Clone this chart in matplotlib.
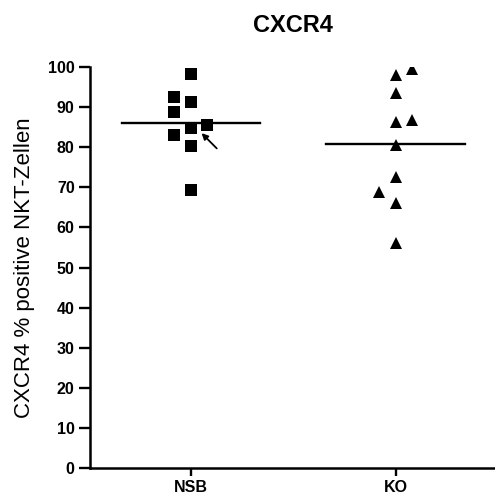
import matplotlib
matplotlib.use("Agg")
import matplotlib.pyplot as plt
import numpy as np

plt.rcParams['font.family'] = ['Liberation Sans', 'DejaVu Sans']

groups = ["NSB", "KO"]
# values (% positive NKT cells)
nsb_vals = [98.3, 92.6, 91.2, 88.7, 84.9, 85.6, 83.0, 80.3, 69.3]
nsb_off = [0.0, -0.085, 0.0, -0.085, 0.0, 0.077, -0.085, 0.0, 0.0]
ko_vals = [98.0, 99.4, 93.4, 86.4, 86.8, 80.5, 72.5, 68.9, 66.0, 56.2]
ko_off = [0.0, 0.08, 0.0, 0.0, 0.08, 0.0, 0.0, -0.082, 0.0, 0.0]
yticks = list(range(0, 101, 10))

fig = plt.figure(figsize=(4.95, 4.97), dpi=100)
ax = fig.add_axes([90 / 495, 29 / 497, 405 / 495, 401 / 497])

ax.plot(0 + np.array(nsb_off), nsb_vals, 's', color='black', ms=8.4, mew=0)
ax.plot(1 + np.array(ko_off), ko_vals, '^', color='black', ms=8.6, mew=0)

# mean lines
for i, vals in enumerate([nsb_vals, ko_vals]):
    m = np.mean(vals)
    ax.plot([i - 0.338, i + 0.338], [m, m], color='black', lw=1.7)

ax.annotate("", xy=(0.052, 83.5), xytext=(0.126, 79.7),
            arrowprops=dict(arrowstyle='-|>', color='black', lw=1.3,
                            mutation_scale=9, shrinkA=0, shrinkB=0))

ax.set_xlim(-0.493, 1.485)
ax.set_ylim(0, 100)
ax.set_xticks([0, 1])
ax.set_xticklabels(groups, fontsize=11.5, fontweight='bold')
ax.set_yticks(yticks)
ax.set_yticklabels([str(t) for t in yticks], fontsize=11.5, fontweight='bold')
ax.tick_params(axis='y', direction='out', length=8, width=1.7, pad=3)
ax.tick_params(axis='x', direction='out', length=5.5, width=1.7, pad=3.5)

for s in ['top', 'right']:
    ax.spines[s].set_visible(False)
for s in ['left', 'bottom']:
    ax.spines[s].set_linewidth(1.8)

ax.set_ylabel("CXCR4 % positive NKT-Zellen", fontsize=16, labelpad=9)
ax.set_title("CXCR4", fontsize=17, fontweight='bold', pad=25)

fig.savefig("out.png", dpi=100)
